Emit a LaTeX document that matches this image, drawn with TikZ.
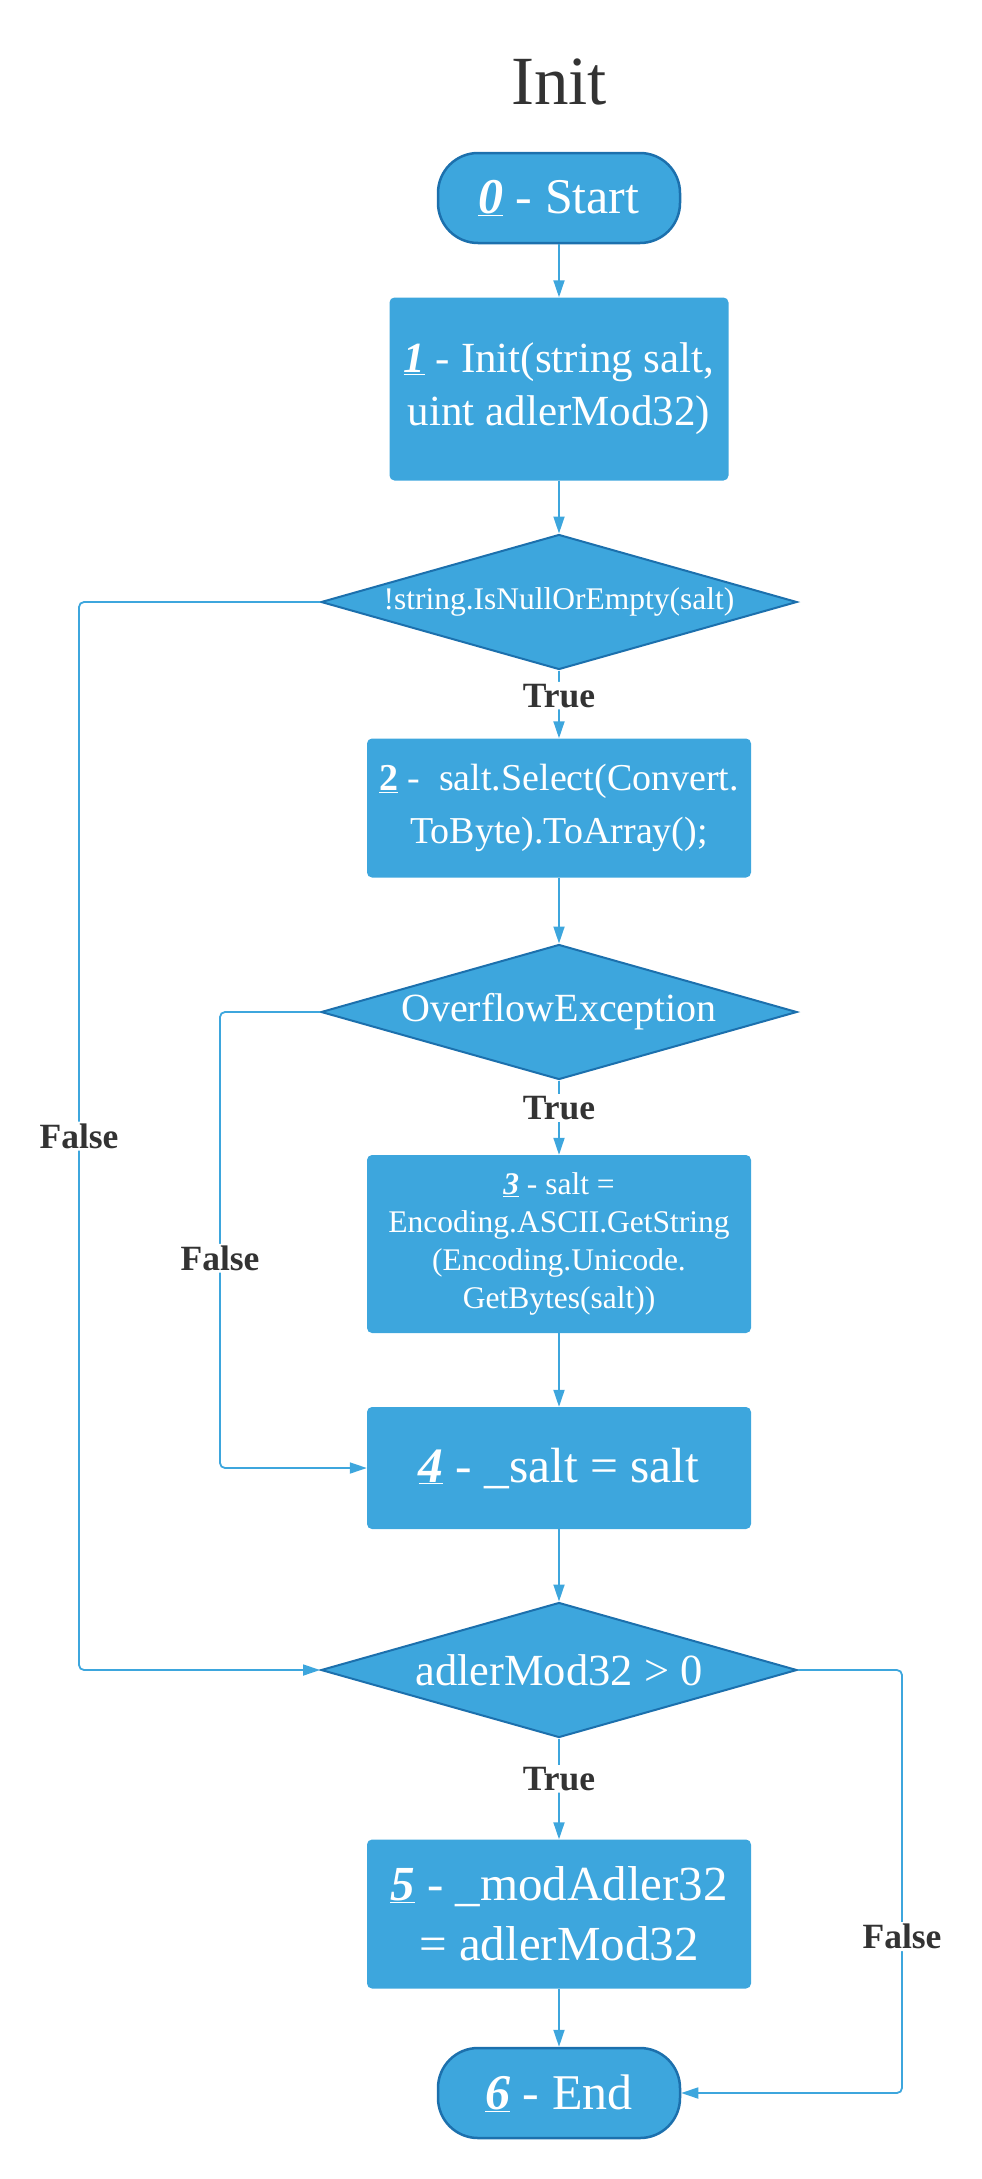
\documentclass[tikz,border=0pt]{standalone}
\usepackage{fontspec}
\setmainfont{Liberation Serif}
\usepackage{tikz}
\usetikzlibrary{arrows.meta, shapes.geometric}

\definecolor{boxblue}{HTML}{3DA6DD}
\definecolor{edgeblue}{HTML}{1C70AD}
\definecolor{inkgray}{HTML}{333333}

\newcommand{\stepno}[1]{\underline{\textbf{\textit{#1}}}}
\newcommand{\fs}[2]{\fontsize{#1}{#2}\selectfont}

\begin{document}
\begin{tikzpicture}[x=1pt, y=-1pt, >={Triangle[length=17pt, width=11pt]},
    startstop/.style={draw=edgeblue, line width=2.5pt, fill=boxblue, text=white, rounded corners=40pt,
        minimum width=242pt, minimum height=90pt, inner sep=0pt},
    process/.style={fill=boxblue, text=white, rounded corners=5pt, align=center,
        minimum width=384pt, inner sep=0pt},
    decision/.style={diamond, aspect=3.53, draw=edgeblue, line width=2pt, fill=boxblue, text=white,
        minimum width=476pt, minimum height=135pt, inner sep=0pt},
    flow/.style={->, draw=boxblue, line width=1.8pt, rounded corners=5pt},
    lbl/.style={fill=white, text=inkgray, font=\fs{35.5}{42}\bfseries, inner sep=2pt}]
    \useasboundingbox (0,0) rectangle (982,2179);

    \node[text=inkgray, font=\fs{69}{80}] (title) at (559,82) {Init};

    \node[startstop, font=\fs{50}{60}] (s0) at (559,198) {\stepno{0} - Start};
    \node[process, minimum width=339pt, minimum height=183pt, font=\fs{43}{53}] (s1) at (559,389)
        {\stepno{1} - Init(string salt,\\uint adlerMod32)};
    \node[decision, font=\fs{31.5}{37}] (d1) at (559,602) {!string.IsNullOrEmpty(salt)};
    \node[process, minimum height=139pt, font=\fs{38}{53}] (s2) at (559,808)
        {\underline{\textbf{2}} -\ \ salt.Select(Convert.\\ToByte).ToArray();};
    \node[decision, font=\fs{40}{46}] (d2) at (559,1012) {OverflowException};
    \node[process, minimum height=178pt, font=\fs{31.5}{38}] (s3) at (559,1244)
        {\stepno{3} - salt =\\Encoding.ASCII.GetString\\(Encoding.Unicode.\\GetBytes(salt))};
    \node[process, minimum height=122pt, font=\fs{49.5}{58}] (s4) at (559,1468) {\stepno{4} - \_salt = salt};
    \node[decision, font=\fs{44.5}{52}] (d3) at (559,1670) {adlerMod32 > 0};
    \node[process, minimum height=149pt, font=\fs{49}{60}] (s5) at (559,1914)
        {\stepno{5} - \_modAdler32\\= adlerMod32};
    \node[startstop, font=\fs{50}{60}] (s6) at (559,2093) {\stepno{6} - End};

    \coordinate (outer) at (79,0);
    \coordinate (inner) at (220,0);
    \coordinate (right) at (902,0);

    % main column
    \draw[flow] (s0) -- (s1);
    \draw[flow] (s1) -- (d1);
    \draw[flow] (d1) -- node[lbl, pos=0.37] {True} (s2);
    \draw[flow] (s2) -- (d2);
    \draw[flow] (d2) -- node[lbl, pos=0.37] {True} (s3);
    \draw[flow] (s3) -- (s4);
    \draw[flow] (s4) -- (d3);
    \draw[flow] (d3) -- node[lbl, pos=0.4] {True} (s5);
    \draw[flow] (s5) -- (s6);

    % false branches
    \draw[flow] (d1.west) -- (d1.west -| outer) -- node[lbl, pos=0.5] {False} (d3.west -| outer) -- (d3.west);
    \draw[flow] (d2.west) -- (d2.west -| inner) -- node[lbl, pos=0.54] {False} (s4.west -| inner) -- (s4.west);
    \draw[flow] (d3.east) -- (d3.east -| right) -- node[lbl, pos=0.63] {False} (s6.east -| right) -- (s6.east);
\end{tikzpicture}
\end{document}
